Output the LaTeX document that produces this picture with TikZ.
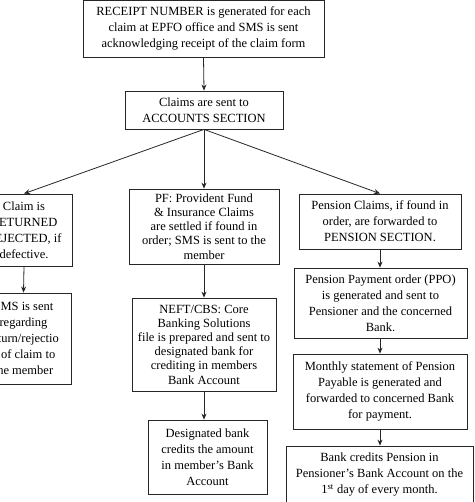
\documentclass[tikz,border=0pt]{standalone}
\usepackage{fontspec}
\setmainfont{Liberation Serif}
\usetikzlibrary{arrows.meta}
\begin{document}
\begin{tikzpicture}[x=1pt,y=-1pt,
  box/.style={draw=black!85, line width=0.8pt, align=center, inner sep=0pt,
    font=\fontsize{12.5}{16}\selectfont},
  tight/.style={font=\fontsize{12.5}{14.2}\selectfont},
  arr/.style={draw=black!85, line width=0.8pt, -{Stealth[length=6pt,width=5pt]}}]
\useasboundingbox (0,0) rectangle (474,502);
\clip (0,0) rectangle (474,502);
\node[box, minimum width=241pt, minimum height=56.5pt] (top) at (203.5,28.75)
  {RECEIPT NUMBER is generated for each\\claim at EPFO office and SMS is sent\\acknowledging receipt of the claim form};
\node[box, minimum width=158pt, minimum height=38pt] (acc) at (204,110)
  {Claims are sent to\\ACCOUNTS SECTION};
\node[box, minimum width=96pt, minimum height=72pt] (left1) at (24,230)
  {Claim is\\RETURNED\\REJECTED, if\\defective.};
\node[box, minimum width=95pt, minimum height=91pt] (sms) at (23.5,338.5)
  {SMS is sent\\regarding\\return/rejectio\\n of claim to\\the member};
\node[box, tight, minimum width=150pt, minimum height=75pt] (pf) at (204,226.5)
  {PF: Provident Fund\\\& Insurance Claims\\are settled if found in\\order; SMS is sent to the\\member};
\node[box, tight, minimum width=144pt, minimum height=93pt] (neft) at (204,344.5)
  {NEFT/CBS: Core\\Banking Solutions\\file is prepared and sent to\\designated bank for\\crediting in members\\Bank Account};
\node[box, minimum width=119pt, minimum height=74pt] (des) at (207.5,457)
  {Designated bank\\credits the amount\\in member's Bank\\Account};
\node[box, minimum width=162pt, minimum height=55pt] (pen) at (380,221.5)
  {Pension Claims, if found in\\order, are forwarded to\\PENSION SECTION.};
\node[box, minimum width=173pt, minimum height=70pt] (ppo) at (380.5,303)
  {Pension Payment order (PPO)\\is generated and sent to\\Pensioner and the concerned\\Bank.};
\node[box, minimum width=174pt, minimum height=75pt] (mon) at (380,391.5)
  {Monthly statement of Pension\\Payable is generated and\\forwarded to concerned Bank\\for payment.};
\node[box, minimum width=187pt, minimum height=58pt] (bank) at (379.5,475)
  {Bank credits Pension in\\Pensioner's Bank Account on the\\1\textsuperscript{st} day of every month.};
\draw[arr] (top.south) -- (acc.north);
\draw[arr] (acc.south) -- (left1.north);
\draw[arr] (acc.south) -- (pf.north);
\draw[arr] (acc.south) -- (pen.north);
\draw[arr] (left1.south) -- (sms.north);
\draw[arr] (pf.south) -- (neft.north);
\draw[arr] (neft.south) -- (neft.south |- des.north);
\draw[arr] (pen.south) -- (pen.south |- ppo.north);
\draw[arr] (ppo.south -| pen.south) -- (pen.south |- mon.north);
\draw[arr] (mon.south) -- (mon.south |- bank.north);
\end{tikzpicture}
\end{document}
